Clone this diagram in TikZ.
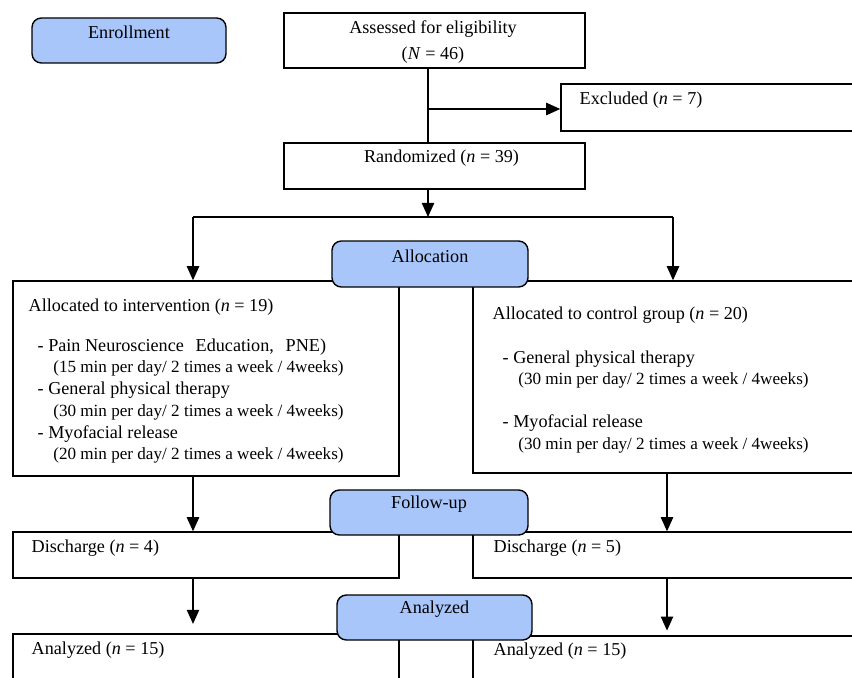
\documentclass[tikz,border=0pt]{standalone}
\usepackage{fontspec}
\setmainfont{Liberation Serif}
\usetikzlibrary{positioning, arrows.meta, fit}
\definecolor{stageblue}{RGB}{168,198,250}
\tikzset{
  flow/.style={
	x=0.03cm, y=-0.03cm, % one unit is one pixel of the page, y runs down
	font=\fontsize{15.5}{18.5}\selectfont,
	line width=1.2pt,
  },
  box/.style={draw, rectangle, inner sep=0pt}, % plain white box
  stage/.style={draw, fill=stageblue, rounded corners=8pt, inner sep=0pt}, % blue stage tab
  stagetxt/.style={inner sep=0pt, yshift=6.8pt}, % text sits high in the box
  txt/.style={inner sep=0pt, anchor=west},
  list/.style={inner sep=0pt, anchor=north west, align=left},
  arr/.style={-{Triangle[length=12pt, width=10.5pt]}}, % filled arrow head
}
\newcommand{\ind}{\hspace*{0.47cm}\fontsize{14.6}{18.5}\selectfont}

\begin{document}
\begin{tikzpicture}[flow]
\useasboundingbox (0,0) rectangle (852,677);
\clip (0,0) rectangle (852,677);

% boxes
\node[box, fit={(284,13) (585,68)}] (assess) {};
\node[box, fit={(561,84) (880,131)}] (excl) {};
\node[box, fit={(284,143) (585,189)}] (random) {};
\node[box, fit={(13,281) (399,476)}] (interv) {};
\node[box, fit={(473,281) (880,473)}] (control) {};
\node[box, fit={(13,532) (399,578)}] (dis-l) {};
\node[box, fit={(473,532) (880,578)}] (dis-r) {};
\node[box, fit={(13,634) (399,720)}] (ana-l) {};
\node[box, fit={(473,636) (880,720)}] (ana-r) {};

% texts
\node[inner sep=0pt, align=center] (assess-t) at (433,42) {Assessed for eligibility\\[3pt](\textit{N} = 46)};
\node[txt] (excl-t) at (579,100) {Excluded (\textit{n} = 7)};
\node[stagetxt, xshift=6pt] (random-t) at (random) {Randomized (\textit{n} = 39)};
\node[txt] (interv-t) at (28,307) {Allocated to intervention (\textit{n} = 19)};
\node[list] (interv-l) at (37,338) {- Pain Neuroscience\hspace{0.4em} Education,\hspace{0.4em} PNE)\\
  \ind(15 min per day/ 2 times a week / 4weeks)\\
  - General physical therapy\\
  \ind(30 min per day/ 2 times a week / 4weeks)\\
  - Myofacial release\\
  \ind(20 min per day/ 2 times a week / 4weeks)};
\node[txt] (control-t) at (492,315) {Allocated to control group (\textit{n} = 20)};
\node[list] (control-l) at (502,350) {- General physical therapy\\
  \ind(30 min per day/ 2 times a week / 4weeks)\\[18pt]
  - Myofacial release\\
  \ind(30 min per day/ 2 times a week / 4weeks)};
\node[txt] (dis-l-t) at (31,548) {Discharge (\textit{n} = 4)};
\node[txt] (dis-r-t) at (493,548) {Discharge (\textit{n} = 5)};
\node[txt] (ana-l-t) at (31,650) {Analyzed (\textit{n} = 15)};
\node[txt] (ana-r-t) at (493,651) {Analyzed (\textit{n} = 15)};

% connectors
\coordinate (mid) at (428,109);
\coordinate (split) at (428,217);
\coordinate (sl) at (193,217);
\coordinate (sr) at (673,217);
\coordinate (rcol) at (667,500);
\draw (mid |- assess.south) -- (mid |- random.north);
\draw[arr] (mid) -- (excl.west |- mid);
\draw[arr] (mid |- random.south) -- (split);
\draw (sl) -- (sr);
\draw[arr] (sl) -- (sl |- interv.north);
\draw[arr] (sr) -- (sr |- control.north);
\draw[arr] (sl |- interv.south) -- (sl |- dis-l.north);
\draw[arr] (rcol |- control.south) -- (rcol |- dis-r.north);
\draw[arr, shorten >=8pt] (sl |- dis-l.south) -- (sl |- ana-l.north);
\draw[arr, shorten >=4pt] (rcol |- dis-r.south) -- (rcol |- ana-r.north);

% stage tabs, on top of the boxes
\node[stage, fit={(32,18) (226,63)}] (enroll) {};
\node[stage, fit={(332,241) (528,287)}] (alloc) {};
\node[stage, fit={(330,490) (528,535)}] (follow) {};
\node[stage, fit={(337,595) (532,640)}] (analyse) {};
\node[stagetxt] (enroll-t) at (enroll) {Enrollment};
\node[stagetxt] (alloc-t) at (alloc) {Allocation};
\node[stagetxt] (follow-t) at (follow) {Follow-up};
\node[stagetxt] (analyse-t) at (analyse) {Analyzed};
\end{tikzpicture}
\end{document}
